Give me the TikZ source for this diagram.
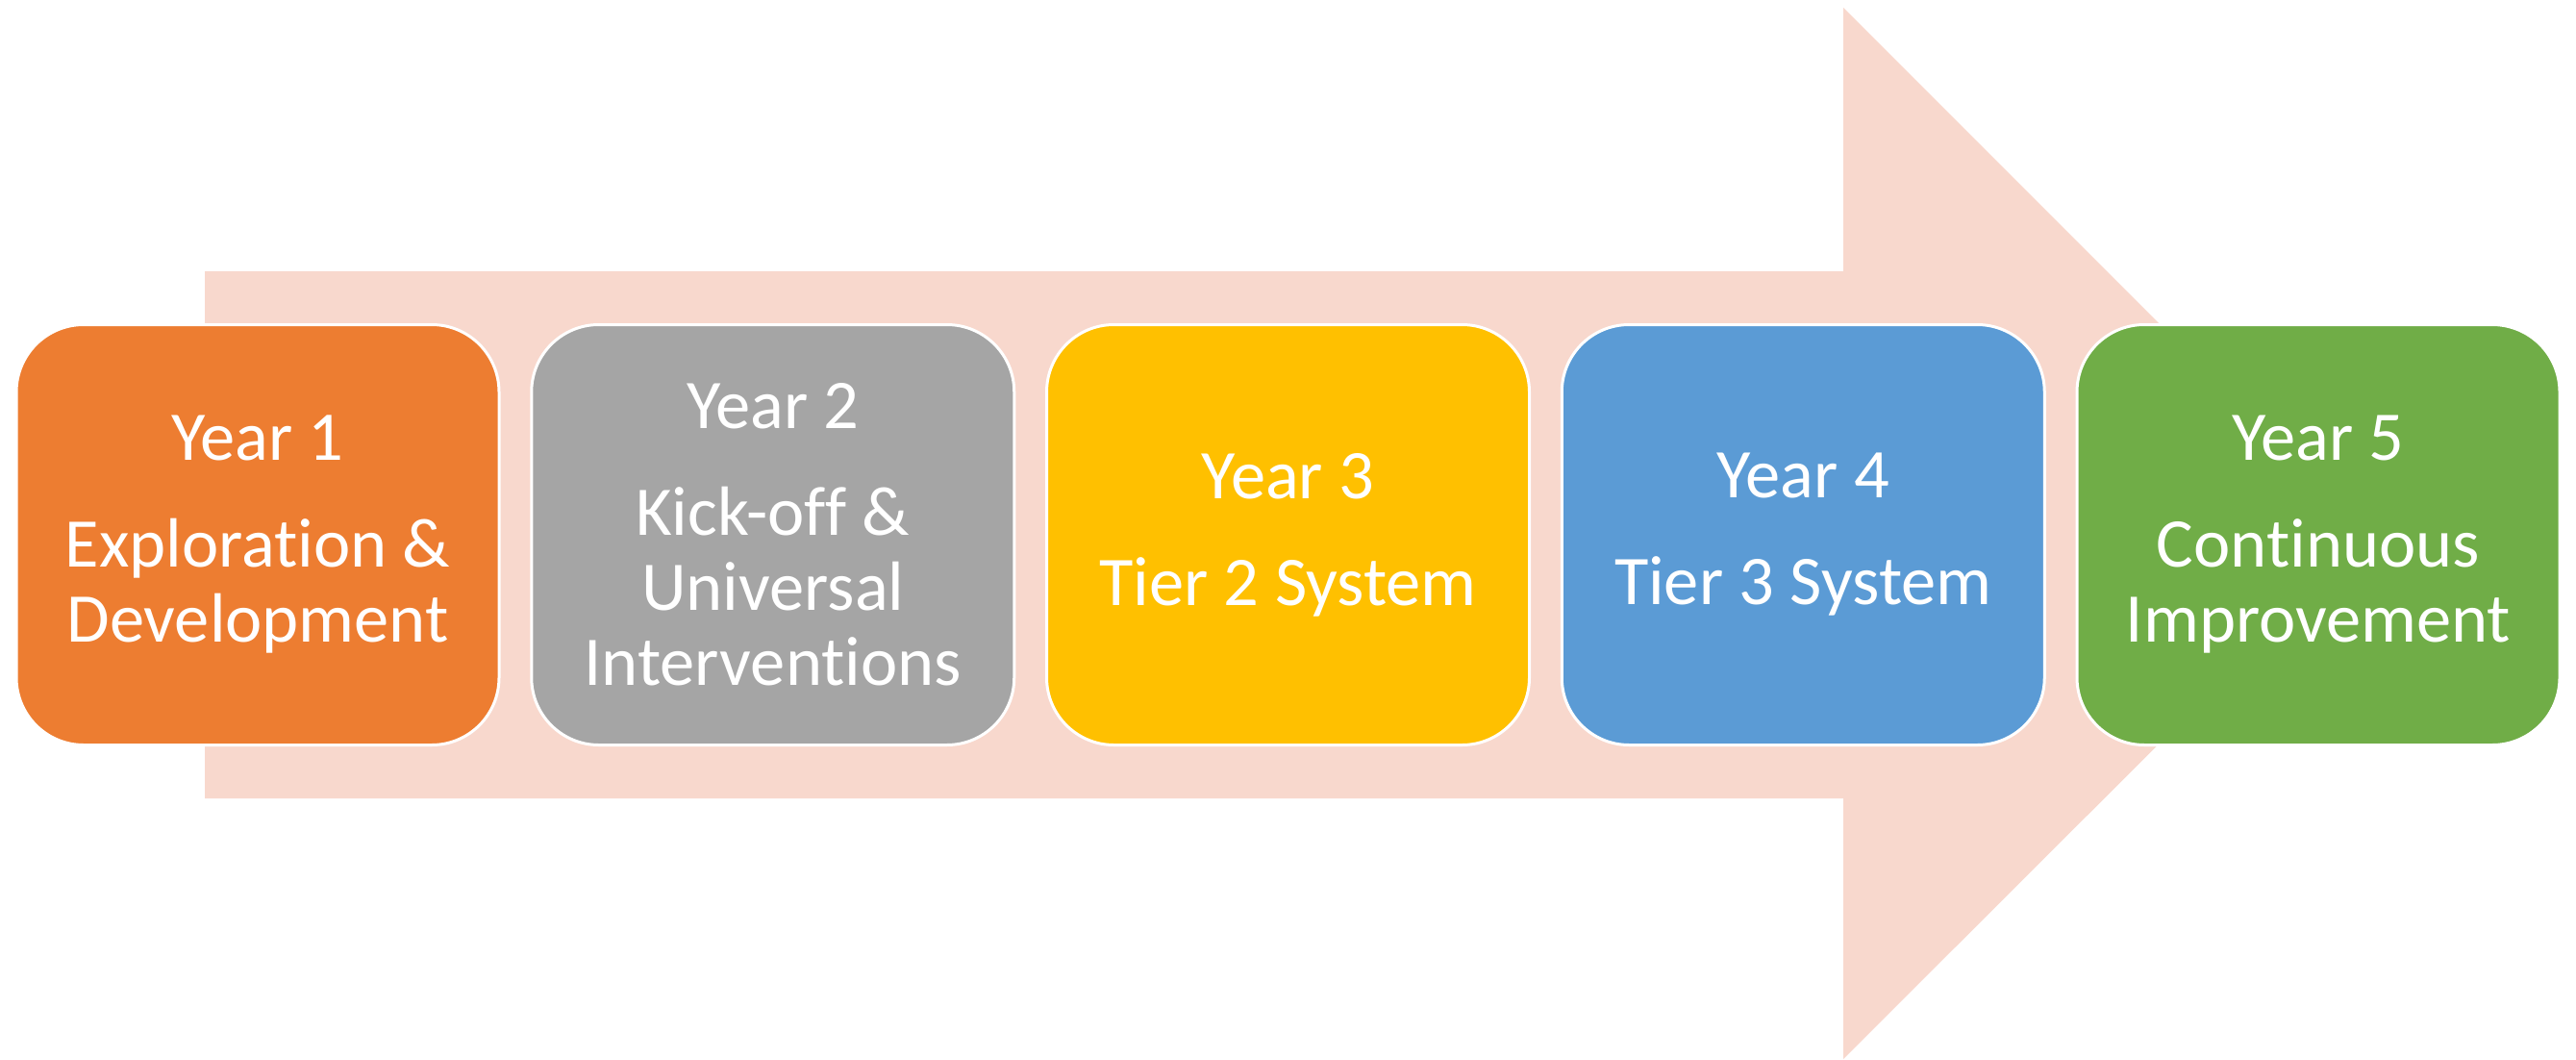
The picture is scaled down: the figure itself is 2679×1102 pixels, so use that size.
\documentclass[tikz,border=0pt]{standalone}
\usepackage{fontspec}
\setmainfont[Ligatures={NoCommon,NoContextual},RawFeature={-liga;-clig;-dlig}]{Carlito}
\begin{document}
\definecolor{arrowfill}{HTML}{F8D8CD}
\definecolor{yearone}{HTML}{ED7D31}
\definecolor{yeartwo}{HTML}{A5A5A5}
\definecolor{yearthree}{HTML}{FFC000}
\definecolor{yearfour}{HTML}{5B9BD5}
\definecolor{yearfive}{HTML}{70AD47}
\begin{tikzpicture}[x=1pt,y=-1pt,
  phase/.style={draw=white, line width=3pt, rounded corners=70pt,
    minimum width=502pt, minimum height=437pt, inner sep=0pt,
    text=white, align=center,
    font=\fontsize{72.5}{78}\selectfont}]
  \useasboundingbox (0,0) rectangle (2679,1102);
  % background block arrow
  \fill[arrowfill] (213,282) -- (1917,282) -- (1917,8) -- (2464,555)
    -- (1917,1101) -- (1917,830) -- (213,830) -- cycle;
  % the five yearly phases
  \node[phase, fill=yearone]   (y1) at (268,556)    {Year 1\\[33pt]Exploration \&\\Development};
  \node[phase, fill=yeartwo]   (y2) at (803.75,556) {Year 2\\[33pt]Kick-off \&\\Universal\\Interventions};
  \node[phase, fill=yearthree] (y3) at (1339.5,556) {Year 3\\[33pt]Tier 2 System};
  \node[phase, fill=yearfour]  (y4) at (1875.25,556) {Year 4\\[33pt]Tier 3 System};
  \node[phase, fill=yearfive]  (y5) at (2411,556)   {Year 5\\[33pt]Continuous\\Improvement};
\end{tikzpicture}
\end{document}
